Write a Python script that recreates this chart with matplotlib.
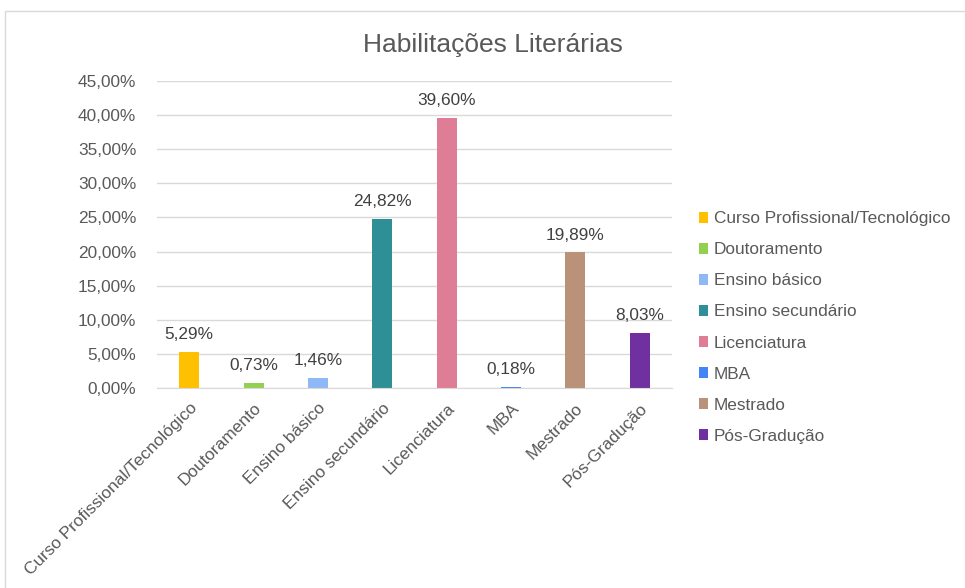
import matplotlib.pyplot as plt
from matplotlib.patches import Rectangle
from matplotlib.ticker import FuncFormatter

plt.rcParams["font.family"] = ["Liberation Sans", "DejaVu Sans"]

categories = ["Curso Profissional/Tecnológico", "Doutoramento", "Ensino básico",
              "Ensino secundário", "Licenciatura", "MBA", "Mestrado", "Pós-Gradução"]
percentages = [5.29, 0.73, 1.46, 24.82, 39.60, 0.18, 19.89, 8.03]
bar_colors = ["#ffc000", "#92d050", "#8fb8f7", "#2e8f96", "#e07d96",
              "#4285f4", "#ba9179", "#7030a0"]
y_ticks = [0, 5, 10, 15, 20, 25, 30, 35, 40, 45]

text_gray = "#595959"
grid_gray = "#d9d9d9"


def pt_br(v):
    return "{:.2f}%".format(v).replace(".", ",")


fig = plt.figure(figsize=(9.65, 5.88), dpi=100)

# outer chart frame
fig.patches.append(Rectangle((5 / 965, -0.1), 2.0, (588 - 11) / 588 + 0.1,
                             transform=fig.transFigure, fill=False,
                             edgecolor=grid_gray, linewidth=1))

ax = fig.add_axes([157 / 965, 200 / 588, 515 / 965, 307 / 588])

x = range(len(categories))
bars = ax.bar(x, percentages, width=0.31, color=bar_colors, label=categories)

for xi, v in zip(x, percentages):
    ax.annotate(pt_br(v), (xi, v), textcoords="offset points", xytext=(0, 7),
                ha="center", va="bottom", fontsize=12.4, color="#404040")

ax.set_xlim(-0.5, len(categories) - 0.5)
ax.set_ylim(0, 45)
ax.set_yticks(y_ticks)
ax.yaxis.set_major_formatter(FuncFormatter(lambda v, _: pt_br(v)))
ax.set_xticks(list(x))
ax.set_xticklabels(categories, rotation=45, ha="right", va="top",
                   rotation_mode="anchor")

ax.tick_params(axis="both", length=0, labelsize=12.4, labelcolor=text_gray)
ax.tick_params(axis="y", pad=15)
ax.tick_params(axis="x", pad=9)

ax.grid(axis="y", color=grid_gray, linewidth=1)
ax.set_axisbelow(True)
for side in ["left", "right", "top"]:
    ax.spines[side].set_visible(False)
ax.spines["bottom"].set_color(grid_gray)

fig.text(493 / 965, 1 - 45 / 588, "Habilitações Literárias", ha="center",
         va="center", fontsize=19, color=text_gray)

fig.legend(handles=bars.patches, labels=categories, loc="center left",
           bbox_to_anchor=(699 / 965, 1 - 327.5 / 588), frameon=False,
           fontsize=12.4, labelcolor=text_gray, handlelength=0.55,
           handleheight=0.55, handletextpad=0.3, labelspacing=0.93,
           borderpad=0, borderaxespad=0)

fig.savefig("out.png", dpi=100)
